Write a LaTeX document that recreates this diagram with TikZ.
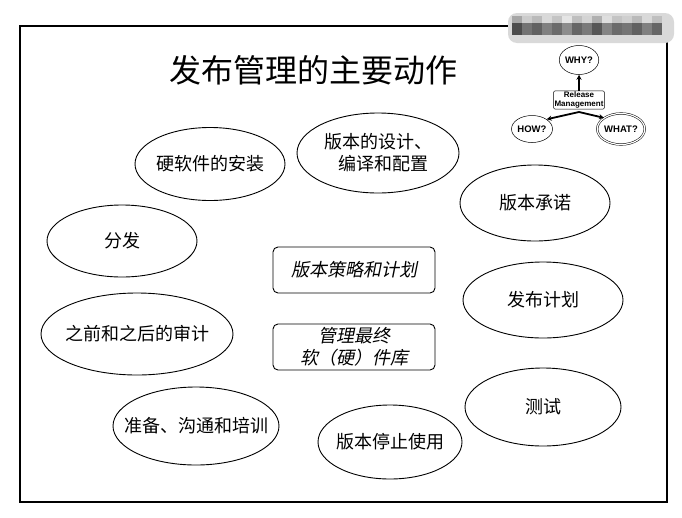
\documentclass[tikz,border=0pt]{standalone}
\usepackage{fontspec}
\setmainfont{Liberation Sans}
\newfontfamily\cjk{Noto Sans CJK SC}
\newfontfamily\cjkit[FakeSlant=0.2]{Noto Sans CJK SC}
\usetikzlibrary{shapes.geometric,arrows.meta}
\begin{document}
\begin{tikzpicture}[x=1pt,y=-1pt,
  act/.style={ellipse,draw,line width=0.9pt,inner sep=0pt},
  actlabel/.style={align=center,inner sep=0pt,font=\cjk\fontsize{18}{22}\selectfont},
  core/.style={rectangle,rounded corners=5pt,draw,line width=0.9pt,minimum width=162pt,minimum height=46pt,inner sep=0pt,align=center,font=\cjkit\fontsize{18}{22}\selectfont},
  small/.style={ellipse,draw,line width=0.5pt,inner sep=0pt,font=\bfseries\fontsize{9.5}{10}\selectfont},
  thk/.style={line width=1.8pt,-{Stealth[length=5pt,width=5pt]}}]
\useasboundingbox (0,0) rectangle (682,517);
\fill[white] (0,0) rectangle (682,517);
% frame
\draw[line width=1.5pt] (20,26) rectangle (667,502);
% redaction block
\fill[gray!30,rounded corners=9pt] (508,13) rectangle (674,43);
\foreach \i/\g in {0/70,1/55,2/62,3/50,4/58,5/45,6/60,7/52,8/66,9/48,10/58,11/54,12/62,13/50,14/60}{
  \fill[black!\g] (512+\i*10,23) rectangle (522+\i*10,35);
  \pgfmathsetmacro{\h}{\g-35}
  \fill[black!\h] (512+\i*10,16) rectangle (522+\i*10,23);
}
% title
\node[font=\cjk\fontsize{32}{36}\selectfont] (title) at (313,70) {发布管理的主要动作};
% activities
\node[act,minimum width=150pt,minimum height=73pt,label={[actlabel]center:硬软件的安装}] (install) at (210,164) {};
\node[act,minimum width=162pt,minimum height=80pt,label={[actlabel]center:版本的设计、\\\hspace*{0.6em}编译和配置}] (design) at (378,153) {};
\node[act,minimum width=150pt,minimum height=76pt,label={[actlabel]center:版本承诺}] (commit) at (535,203) {};
\node[act,minimum width=150pt,minimum height=72pt,label={[actlabel]center:分发}] (dist) at (122,241) {};
\node[act,minimum width=160pt,minimum height=76pt,label={[actlabel]center:发布计划}] (plan) at (543,300) {};
\node[act,minimum width=192pt,minimum height=82pt,label={[actlabel]center:之前和之后的审计}] (audit) at (137,334) {};
\node[act,minimum width=156pt,minimum height=78pt,label={[actlabel]center:测试}] (test) at (543,407) {};
\node[act,minimum width=166pt,minimum height=78pt,label={[actlabel]center:准备、沟通和培训}] (prep) at (196,426) {};
\node[act,minimum width=144pt,minimum height=74pt,label={[actlabel]center:版本停止使用}] (retire) at (390,442) {};
% core boxes
\node[core] (strategy) at (354,270) {版本策略和计划};
\node[core] (library) at (354,347) {管理最终\\软（硬）件库};
% small diagram
\node[small,minimum width=34pt,minimum height=29pt] (why) at (579,60) {WHY?};
\node[rectangle,rounded corners=2pt,draw,line width=0.5pt,inner sep=1pt,align=center,font=\bfseries\fontsize{8}{9}\selectfont] (rm) at (579,100) {Release\\Management};
\node[small,minimum width=32pt,minimum height=27pt] (how) at (532,129) {HOW?};
\node[small,double,double distance=1.2pt,minimum width=36pt,minimum height=31pt] (what) at (621,129) {WHAT?};
\coordinate (fork) at (579,112);
\draw[thk] (rm.north) -- (why.south);
\draw[thk] (fork) -- (how.north east);
\draw[thk] (fork) -- (what.north west);
\end{tikzpicture}
\end{document}
